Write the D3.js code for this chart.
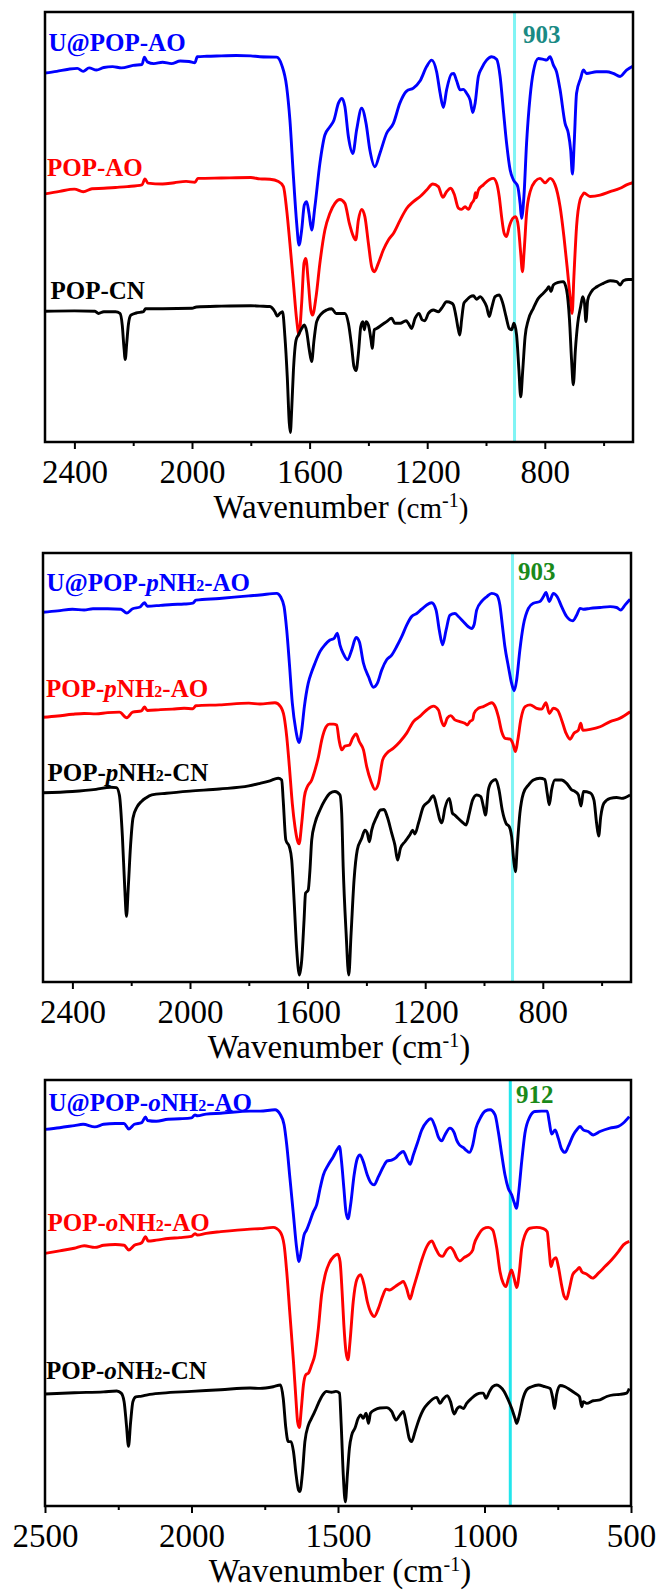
<!DOCTYPE html>
<html>
<head>
<meta charset="utf-8">
<script src="https://cdn.jsdelivr.net/npm/d3@7/dist/d3.min.js"></script>
<style>
  html, body { margin: 0; padding: 0; background: #fff; }
  svg { display: block; }
  text { font-family: "Liberation Serif", "Times New Roman", serif; }
</style>
</head>
<body>
<svg id="chart" width="659" height="1591"></svg>
<script>
// FTIR spectra, [wavenumber (cm-1), transmittance (a.u.)]

// ---- Panel A: POP-AO series ----
const uPopAO = [[2500,85.8],[2460,86.2],[2420,86.7],[2390,86.9],[2370,86.2],[2350,87.0],[2325,86.5],[2300,87.1],[2270,87.3],[2240,87.0],[2200,87.6],[2170,87.8],[2162,89.5],[2152,88.4],[2130,88.0],[2100,88.3],[2070,88.0],[2040,88.6],[2010,88.5],[1990,88.2],[1982,89.6],[1950,89.7],[1900,89.8],[1850,89.9],[1800,89.8],[1769,89.6],[1712,89.5],[1695,87.7],[1678,82.6],[1667,74.9],[1655,61.7],[1644,50.9],[1636,45.8],[1627,49.3],[1618,55.1],[1610,55.9],[1602,53.2],[1593,49.3],[1582,54.7],[1565,64.8],[1548,71.4],[1531,73.3],[1517,74.9],[1502,78.8],[1490,79.9],[1480,78.0],[1468,71.0],[1453,67.1],[1440,72.6],[1423,77.6],[1408,74.1],[1395,67.9],[1378,64.0],[1361,67.1],[1338,71.8],[1315,74.1],[1293,78.8],[1270,81.6],[1247,82.3],[1224,84.0],[1202,87.3],[1185,88.8],[1168,86.1],[1156,81.1],[1145,77.8],[1134,81.9],[1117,85.6],[1110,85.7],[1100,84.0],[1088,81.9],[1077,82.0],[1066,81.1],[1054,79.5],[1045,76.6],[1037,78.8],[1026,85.0],[1015,86.9],[998,88.8],[981,89.6],[964,89.0],[952,85.0],[941,77.2],[930,69.5],[918,63.3],[907,61.0],[892,59.4],[884,55.5],[879,52.0],[871,57.1],[862,69.5],[850,80.3],[839,86.1],[822,89.2],[805,89.0],[794,88.8],[782,89.6],[771,87.7],[760,86.1],[748,81.9],[731,74.1],[720,71.8],[712,67.9],[706,62.3],[700,69.5],[692,81.1],[678,84.6],[669,86.5],[658,85.7],[624,86.1],[590,86.1],[567,85.7],[544,85.0],[522,86.5],[501,87.4]];
const popAO = [[2500,57.7],[2450,58.3],[2400,58.8],[2370,58.2],[2340,58.9],[2300,59.0],[2260,59.2],[2220,59.4],[2170,59.8],[2160,61.2],[2150,60.2],[2100,60.0],[2060,60.3],[2020,60.6],[1990,60.4],[1980,61.3],[1900,61.4],[1800,61.5],[1769,61.2],[1735,61.1],[1706,60.6],[1689,59.4],[1678,54.0],[1667,46.2],[1655,36.9],[1644,28.4],[1636,24.9],[1627,32.3],[1619,41.6],[1613,42.7],[1604,36.9],[1596,30.7],[1590,29.5],[1578,33.8],[1565,41.6],[1548,49.3],[1531,53.2],[1514,55.5],[1497,56.4],[1480,55.5],[1465,50.9],[1451,47.8],[1443,47.0],[1434,51.6],[1423,54.1],[1412,52.4],[1400,46.2],[1389,40.8],[1380,39.6],[1366,41.6],[1349,44.7],[1332,47.0],[1315,48.5],[1292,51.6],[1270,54.3],[1247,55.9],[1224,57.1],[1202,58.6],[1181,60.0],[1162,59.4],[1147,56.9],[1134,58.2],[1120,59.0],[1108,57.6],[1094,54.4],[1083,54.1],[1071,54.7],[1060,54.1],[1049,55.5],[1040,56.5],[1036,58.0],[1033,56.8],[1026,58.6],[1009,59.8],[989,61.0],[975,61.3],[964,60.2],[955,57.1],[947,52.4],[938,48.5],[930,47.8],[921,50.1],[909,52.0],[899,52.4],[890,50.1],[882,43.9],[876,39.6],[870,44.7],[862,53.2],[850,58.2],[833,60.6],[816,61.3],[799,60.3],[782,61.3],[765,59.8],[748,54.7],[735,47.8],[723,40.0],[714,33.8],[707,29.9],[701,38.5],[692,50.1],[680,56.3],[670,57.6],[667,57.9],[646,57.1],[612,57.4],[578,58.2],[544,59.0],[522,59.8],[501,60.3]];
const popCN = [[2500,30.4],[2400,30.5],[2330,30.4],[2318,29.9],[2300,30.3],[2260,30.3],[2245,29.9],[2237,27.0],[2232,22.5],[2227,19.2],[2222,23.0],[2216,27.5],[2208,29.5],[2190,30.0],[2165,30.3],[2158,31.0],[2100,31.0],[2000,31.1],[1985,31.4],[1900,31.6],[1800,31.7],[1769,31.6],[1735,31.5],[1718,30.3],[1710,29.3],[1701,29.9],[1692,30.3],[1684,24.5],[1676,15.2],[1669,4.3],[1665.5,2.2],[1661,7.4],[1655,16.7],[1646,23.7],[1638,24.9],[1627,26.4],[1618,27.2],[1610,25.7],[1601,21.4],[1593,18.7],[1585,23.7],[1576,28.0],[1559,29.9],[1542,30.7],[1525,31.0],[1510,29.9],[1480,29.9],[1468,27.6],[1457,22.2],[1449,17.5],[1442,16.6],[1434,20.6],[1426,26.8],[1419,28.0],[1414,26.1],[1408,28.0],[1400,27.2],[1391,23.7],[1387,21.8],[1380,26.1],[1372,26.4],[1355,27.2],[1338,28.0],[1321,28.8],[1310,27.6],[1292,27.6],[1272,28.2],[1264,27.6],[1253,26.4],[1241,28.8],[1228,29.9],[1217,28.4],[1208,28.2],[1196,29.9],[1179,30.7],[1162,30.3],[1151,31.1],[1134,32.6],[1117,32.3],[1111,31.9],[1102,29.2],[1094,26.1],[1089,24.9],[1083,28.4],[1075,32.3],[1066,33.0],[1054,33.8],[1043,34.0],[1032,33.2],[1020,33.8],[1009,33.0],[998,31.5],[989,29.2],[981,31.1],[969,33.8],[955,34.2],[943,32.3],[932,29.2],[921,26.4],[913,26.1],[905,27.6],[896,24.9],[888,16.7],[882,10.5],[875,16.7],[867,24.5],[856,28.4],[839,31.1],[822,33.4],[805,34.6],[794,35.4],[786,36.1],[779,35.0],[771,36.5],[754,37.1],[737,37.3],[726,35.4],[716,28.4],[709,19.1],[703,13.3],[696,21.4],[688,27.6],[678,31.5],[671,33.8],[665,32.3],[660,28.0],[654,33.0],[641,35.0],[623,36.1],[601,36.9],[578,37.5],[555,37.3],[544,36.5],[533,37.5],[516,37.8],[501,37.8]];

// ---- Panel B: POP-pNH2 series ----
const uPopPAO = [[2500,86.2],[2450,86.5],[2400,86.9],[2360,86.7],[2330,87.0],[2280,87.0],[2235,86.9],[2215,86.0],[2195,87.0],[2170,87.4],[2155,88.4],[2145,87.6],[2100,87.8],[2060,88.0],[2020,88.1],[1990,88.3],[1980,89.0],[1900,89.4],[1800,90.0],[1762,90.2],[1705,90.6],[1692,89.8],[1680,87.5],[1671,82.0],[1662,74.3],[1652,65.0],[1640,58.7],[1633,56.4],[1628,55.8],[1620,58.7],[1611,64.2],[1598,69.6],[1586,72.3],[1575,74.3],[1558,77.0],[1541,78.6],[1524,79.7],[1510,80.1],[1499,81.3],[1490,78.6],[1479,76.6],[1464,75.1],[1450,77.4],[1435,80.3],[1424,79.3],[1410,74.3],[1393,71.2],[1376,68.7],[1363,69.6],[1348,72.7],[1331,75.1],[1314,76.2],[1297,78.2],[1280,80.5],[1263,83.2],[1246,85.2],[1229,85.9],[1212,86.9],[1195,87.9],[1178,88.4],[1163,86.7],[1152,82.0],[1141,78.6],[1129,82.0],[1116,85.5],[1099,85.9],[1087,85.2],[1070,84.0],[1053,82.8],[1042,82.4],[1034,83.2],[1025,86.7],[1008,88.7],[991,89.8],[974,90.6],[957,90.2],[946,87.9],[937,82.8],[929,78.2],[917,73.5],[906,69.6],[897,67.9],[889,70.4],[878,77.4],[866,83.2],[849,87.1],[832,88.3],[810,88.7],[798,89.8],[789,90.8],[778,88.7],[764,90.6],[751,89.8],[736,87.5],[719,85.2],[698,84.2],[685,85.5],[673,87.1],[662,86.9],[639,87.1],[605,87.3],[571,87.5],[549,87.3],[535,86.7],[520,87.9],[503,89.2]];
const popPAO = [[2500,61.7],[2450,62.0],[2400,62.4],[2360,62.6],[2320,62.5],[2280,62.8],[2240,62.9],[2215,61.6],[2195,62.9],[2165,63.2],[2155,64.1],[2145,63.3],[2100,63.5],[2060,63.6],[2020,63.8],[1990,63.7],[1980,64.4],[1900,64.6],[1800,65.0],[1762,64.8],[1711,65.1],[1692,64.2],[1680,61.9],[1671,57.2],[1662,50.2],[1652,41.6],[1643,36.2],[1635,33.1],[1629,32.2],[1620,37.0],[1611,43.2],[1601,45.5],[1586,47.1],[1575,49.4],[1563,52.5],[1552,56.4],[1537,59.5],[1526,60.1],[1512,60.1],[1501,59.9],[1493,56.4],[1484,54.1],[1473,55.0],[1458,55.2],[1447,56.8],[1435,57.8],[1424,56.0],[1410,54.1],[1399,50.2],[1384,46.7],[1371,44.9],[1359,46.3],[1345,51.7],[1331,53.3],[1308,54.5],[1286,56.0],[1263,58.0],[1240,60.7],[1218,61.9],[1195,63.4],[1172,64.3],[1155,63.4],[1144,60.7],[1136,59.7],[1125,61.5],[1113,62.1],[1099,61.1],[1082,60.7],[1065,60.3],[1057,59.9],[1048,60.7],[1038,61.2],[1034,62.6],[1019,63.8],[1002,64.2],[985,64.8],[974,65.1],[962,64.2],[951,61.8],[940,58.4],[928,56.8],[911,56.6],[902,55.6],[893,53.7],[885,56.4],[875,61.1],[860,64.2],[843,64.6],[821,63.8],[804,63.6],[789,65.1],[778,62.6],[764,63.8],[750,63.4],[736,61.1],[721,58.0],[707,56.6],[694,58.0],[679,58.7],[671,60.3],[664,58.7],[639,58.9],[605,59.5],[571,60.7],[537,61.5],[503,63.0]];
const popPCN = [[2500,44.1],[2400,44.4],[2320,44.9],[2270,45.4],[2250,45.3],[2240,43.5],[2230,34.0],[2222,22.0],[2216,15.3],[2210,22.0],[2202,32.0],[2194,38.2],[2180,40.8],[2165,42.1],[2150,42.9],[2130,43.6],[2080,44.0],[2000,44.5],[1900,45.0],[1800,45.7],[1762,46.3],[1728,46.9],[1700,47.5],[1688,47.1],[1683,42.4],[1674,33.1],[1662,31.5],[1654,28.4],[1646,19.1],[1637,7.5],[1628,1.6],[1620,5.1],[1612,14.5],[1607,20.7],[1598,21.4],[1592,26.1],[1586,33.1],[1575,37.0],[1558,40.1],[1541,42.4],[1524,44.0],[1507,44.4],[1490,43.6],[1484,39.3],[1479,26.9],[1469,11.4],[1460,1.6],[1452,11.4],[1442,23.8],[1431,30.8],[1416,33.5],[1405,35.4],[1397,34.7],[1390,32.7],[1382,35.4],[1365,38.5],[1352,40.1],[1340,40.2],[1329,38.5],[1314,34.7],[1303,31.9],[1294,28.4],[1284,31.2],[1269,32.7],[1252,34.3],[1243,35.4],[1235,34.5],[1223,37.0],[1206,40.9],[1189,42.0],[1172,43.4],[1161,40.9],[1150,37.8],[1143,37.1],[1133,40.5],[1118,42.8],[1107,39.3],[1099,38.9],[1093,38.5],[1076,37.4],[1061,36.6],[1050,39.3],[1039,42.4],[1025,43.6],[1011,43.2],[1002,40.9],[995,38.9],[985,44.8],[974,46.7],[960,47.2],[949,44.8],[938,40.1],[925,37.0],[914,36.2],[906,33.9],[899,28.4],[893,25.7],[887,31.5],[878,39.3],[866,44.0],[849,45.9],[832,47.1],[810,47.5],[793,47.2],[785,44.0],[778,41.3],[770,44.8],[759,47.1],[736,47.1],[719,46.3],[702,44.8],[690,44.4],[679,43.6],[670,41.0],[662,44.4],[639,44.1],[626,42.4],[617,37.0],[610,34.0],[603,38.5],[592,41.7],[571,42.8],[549,43.0],[532,42.8],[503,43.6]];

// ---- Panel C: POP-oNH2 series ----
const uPopOAO = [[2500,88.4],[2450,88.8],[2400,89.3],[2370,89.6],[2330,89.0],[2300,89.6],[2260,89.8],[2230,89.8],[2214,88.5],[2195,89.6],[2170,90.0],[2157,91.3],[2150,90.5],[2120,90.3],[2080,90.8],[2040,90.9],[2000,91.1],[1988,91.8],[1980,91.6],[1950,92.0],[1900,92.2],[1800,92.7],[1766,92.7],[1715,93.0],[1698,92.0],[1684,89.5],[1675,84.8],[1664,76.9],[1652,68.3],[1641,60.5],[1633,57.4],[1624,60.5],[1616,63.6],[1607,64.8],[1596,66.8],[1584,69.1],[1573,70.7],[1561,74.6],[1550,77.7],[1533,80.1],[1516,82.0],[1502,83.8],[1495,84.4],[1488,80.9],[1480,74.6],[1473,69.1],[1466,67.4],[1457,70.7],[1445,77.7],[1434,81.6],[1425,82.4],[1414,80.9],[1400,77.7],[1387,75.8],[1377,75.4],[1362,77.3],[1345,79.7],[1332,81.0],[1317,81.2],[1302,81.8],[1291,82.6],[1277,83.2],[1263,81.2],[1254,80.2],[1243,82.4],[1229,85.2],[1214,88.3],[1197,90.2],[1183,90.9],[1169,89.1],[1158,86.7],[1146,85.7],[1135,87.1],[1118,88.7],[1104,87.7],[1095,85.9],[1086,84.8],[1072,84.1],[1061,83.4],[1052,83.0],[1040,84.8],[1029,88.7],[1015,91.0],[998,92.7],[981,93.0],[964,91.8],[953,87.9],[941,82.4],[930,77.7],[919,74.6],[907,73.0],[898,71.1],[891,69.9],[883,73.8],[873,80.9],[862,87.5],[845,91.4],[828,92.6],[805,92.7],[786,92.7],[779,90.2],[771,87.3],[759,88.3],[748,86.3],[737,83.8],[725,83.0],[714,84.4],[697,87.1],[683,88.5],[674,89.1],[663,88.3],[646,87.9],[629,87.1],[606,87.9],[572,88.7],[543,89.1],[526,89.9],[506,91.4]];
const popOAO = [[2500,59.3],[2450,59.9],[2400,60.5],[2366,61.1],[2330,60.7],[2300,61.2],[2260,61.4],[2230,61.2],[2214,60.1],[2195,61.2],[2170,61.8],[2157,63.2],[2148,62.2],[2120,62.4],[2080,62.8],[2040,63.0],[2000,63.3],[1988,63.9],[1980,63.6],[1950,64.0],[1900,64.4],[1800,65.0],[1766,65.1],[1721,65.4],[1698,64.4],[1684,61.3],[1675,55.0],[1664,44.9],[1652,33.9],[1643,24.5],[1638,19.8],[1632,18.4],[1625,23.0],[1618,28.4],[1610,30.8],[1601,31.2],[1590,33.1],[1579,35.5],[1567,41.7],[1556,49.6],[1544,54.2],[1530,57.0],[1514,58.6],[1501,59.1],[1493,57.4],[1486,50.3],[1480,42.5],[1473,36.3],[1466,34.3],[1459,38.6],[1448,48.0],[1436,53.1],[1423,54.3],[1411,51.9],[1400,48.0],[1387,45.3],[1376,44.5],[1362,46.4],[1348,49.2],[1336,50.9],[1323,50.7],[1305,51.5],[1288,52.3],[1277,52.7],[1266,51.1],[1254,48.6],[1243,51.1],[1229,54.3],[1214,57.8],[1197,60.9],[1180,62.2],[1167,60.5],[1154,58.9],[1143,58.6],[1129,60.1],[1117,60.7],[1104,59.7],[1095,58.3],[1084,57.5],[1070,58.3],[1055,58.9],[1040,60.1],[1036,61.3],[1021,63.6],[1004,65.1],[987,65.4],[972,64.8],[958,60.5],[947,55.0],[936,52.3],[927,51.5],[918,53.5],[908,55.4],[899,53.5],[890,51.3],[881,55.0],[873,60.5],[862,63.6],[845,65.2],[822,65.4],[799,65.1],[786,64.4],[780,60.5],[773,56.2],[765,57.8],[756,58.3],[748,56.2],[737,51.9],[728,49.2],[720,48.6],[710,51.1],[699,54.3],[685,55.4],[676,56.0],[668,55.0],[651,54.4],[631,53.5],[612,54.6],[589,56.2],[566,57.8],[543,59.7],[526,61.3],[506,62.1]];
const popOCN = [[2500,26.3],[2400,26.6],[2300,26.8],[2255,27.0],[2240,26.5],[2230,24.5],[2222,19.0],[2215,14.0],[2208,19.5],[2200,24.5],[2190,25.6],[2170,25.8],[2150,26.1],[2100,26.5],[2000,26.9],[1900,27.3],[1800,27.7],[1766,27.6],[1721,28.0],[1696,28.4],[1687,25.3],[1678,18.3],[1670,15.1],[1660,15.1],[1652,12.8],[1643,7.3],[1635,3.8],[1630,3.4],[1622,7.3],[1613,15.1],[1601,19.0],[1590,20.6],[1579,22.2],[1567,24.1],[1552,26.1],[1539,26.9],[1522,26.7],[1507,26.9],[1495,26.5],[1489,19.0],[1482,7.3],[1475,1.0],[1468,7.3],[1461,13.6],[1453,16.7],[1442,18.3],[1431,20.6],[1422,21.4],[1414,20.6],[1404,21.8],[1396,19.4],[1389,21.8],[1374,22.6],[1357,23.0],[1334,23.1],[1317,22.2],[1302,20.2],[1288,21.4],[1277,22.2],[1266,19.0],[1257,15.9],[1249,15.1],[1237,17.5],[1222,20.6],[1209,22.6],[1192,24.1],[1177,25.1],[1163,25.5],[1152,24.1],[1141,25.1],[1127,25.9],[1116,24.5],[1104,21.6],[1093,22.9],[1084,23.3],[1072,22.9],[1061,24.1],[1044,25.3],[1027,26.2],[1013,26.5],[1004,26.5],[995,25.3],[983,26.9],[972,28.0],[958,28.4],[947,28.0],[933,26.9],[919,24.9],[907,22.9],[896,20.6],[890,19.4],[881,21.4],[870,24.9],[856,27.3],[839,28.0],[816,28.4],[794,28.0],[776,27.6],[767,25.3],[761,22.9],[754,26.1],[742,28.3],[725,28.0],[708,27.3],[691,26.5],[676,25.7],[668,23.3],[663,24.5],[651,24.1],[629,24.7],[606,24.9],[583,25.7],[560,26.1],[538,26.2],[515,26.5],[506,27.6]];

// series names: [text, style] runs (i = italic, s = small digit)
const namesA = [
  [["U@POP-AO", ""]],
  [["POP-AO", ""]],
  [["POP-CN", ""]]
];
const namesB = [
  [["U@POP-", ""], ["p", "i"], ["NH", ""], ["2", "s"], ["-AO", ""]],
  [["POP-", ""], ["p", "i"], ["NH", ""], ["2", "s"], ["-AO", ""]],
  [["POP-", ""], ["p", "i"], ["NH", ""], ["2", "s"], ["-CN", ""]]
];
const namesC = [
  [["U@POP-", ""], ["o", "i"], ["NH", ""], ["2", "s"], ["-AO", ""]],
  [["POP-", ""], ["o", "i"], ["NH", ""], ["2", "s"], ["-AO", ""]],
  [["POP-", ""], ["o", "i"], ["NH", ""], ["2", "s"], ["-CN", ""]]
];

// reference band positions and axis ticks
const bandA = 903, bandB = 903, bandC = 912;
const majorAB = [2400, 2000, 1600, 1200, 800];
const minorAB = [2200, 1800, 1400, 1000, 600];
const majorC = [2500, 2000, 1500, 1000, 500];
const minorC = [2250, 1750, 1250, 750];

const seriesColors = ["#0000ff", "#ff0000", "#000000"];

const panels = [
  { top: 12, bottom: 442, left: 45, right: 633,
    series: [uPopAO, popAO, popCN], names: namesA,
    nameX: [48.5, 47, 50.5], nameY: [51, 176, 299],
    band: bandA, bandColor: "#80f4f4", bandText: "#1a8a84", bandLabelX: 523, bandLabelY: 43,
    major: majorAB, minor: minorAB, smallParen: true },
  { top: 553, bottom: 982, left: 43, right: 631,
    series: [uPopPAO, popPAO, popPCN], names: namesB,
    nameX: [46.5, 46, 47.5], nameY: [591, 697, 781],
    band: bandB, bandColor: "#80f4f4", bandText: "#1a8a1a", bandLabelX: 518, bandLabelY: 580,
    major: majorAB, minor: minorAB, smallParen: false },
  { top: 1080, bottom: 1506, left: 45, right: 631,
    series: [uPopOAO, popOAO, popOCN], names: namesC,
    nameX: [48.5, 47.5, 46], nameY: [1111, 1231, 1379],
    band: bandC, bandColor: "#22e6ec", bandText: "#1a8a1a", bandLabelX: 516, bandLabelY: 1103,
    major: majorC, minor: minorC, smallParen: false }
];

const svg = d3.select("#chart");
svg.append("rect").attr("width", 659).attr("height", 1591).attr("fill", "#fff");

panels.forEach((p, pi) => {
  const x = d3.scaleLinear().domain([2500, 500]).range([p.left, p.right]);
  const y = d3.scaleLinear().domain([0, 100]).range([p.bottom, p.top]);
  const g = svg.append("g");

  const clipId = "clip" + pi;
  g.append("clipPath").attr("id", clipId)
    .append("rect").attr("x", p.left).attr("y", p.top)
    .attr("width", p.right - p.left).attr("height", p.bottom - p.top);

  // reference band line
  g.append("line")
    .attr("x1", x(p.band)).attr("x2", x(p.band))
    .attr("y1", p.top).attr("y2", p.bottom)
    .attr("stroke", p.bandColor).attr("stroke-width", 3);

  // spectra
  const line = d3.line()
    .x(d => x(d[0])).y(d => y(d[1]))
    .curve(d3.curveMonotoneX);
  const plot = g.append("g").attr("clip-path", `url(#${clipId})`);
  p.series.forEach((s, i) => {
    plot.append("path").datum(s)
      .attr("d", line)
      .attr("fill", "none")
      .attr("stroke", seriesColors[i])
      .attr("stroke-width", 2.9)
      .attr("stroke-linejoin", "round");
  });

  // frame
  g.append("rect")
    .attr("x", p.left).attr("y", p.top)
    .attr("width", p.right - p.left).attr("height", p.bottom - p.top)
    .attr("fill", "none").attr("stroke", "#000").attr("stroke-width", 2.5);

  // bottom axis: major and minor ticks
  const axMajor = d3.axisBottom(x).tickValues(p.major).tickSize(7).tickSizeOuter(0)
    .tickFormat(d3.format("d"));
  const axMinor = d3.axisBottom(x).tickValues(p.minor).tickSize(4).tickSizeOuter(0).tickFormat("");
  const gMinor = g.append("g").attr("transform", `translate(0,${p.bottom})`).call(axMinor);
  const gMajor = g.append("g").attr("transform", `translate(0,${p.bottom})`).call(axMajor);
  [gMinor, gMajor].forEach(a => {
    a.attr("font-family", null).attr("font-size", null);
    a.select(".domain").remove();
    a.selectAll(".tick line").attr("stroke", "#000").attr("stroke-width", 2);
  });
  gMajor.selectAll(".tick text")
    .attr("y", 41).attr("dy", 0)
    .attr("fill", "#000")
    .style("font-family", '"Liberation Serif", "Times New Roman", serif')
    .style("font-size", "33px");

  // axis title
  const cx = (p.left + p.right) / 2;
  const title = g.append("text")
    .attr("x", cx + 2).attr("y", p.bottom + 76)
    .attr("text-anchor", "middle")
    .style("font-size", "33px").attr("fill", "#000");
  title.append("tspan").text("Wavenumber ");
  title.append("tspan").text("(cm").style("font-size", p.smallParen ? "29px" : "33px");
  title.append("tspan").text("-1").style("font-size", "20px").attr("dy", -11);
  title.append("tspan").text(")").style("font-size", p.smallParen ? "29px" : "33px").attr("dy", 11);

  // series labels
  p.names.forEach((runs, i) => {
    const t = g.append("text")
      .attr("x", p.nameX[i]).attr("y", p.nameY[i])
      .attr("fill", seriesColors[i])
      .style("font-size", "25px").style("font-weight", "bold");
    runs.forEach(([str, st]) => {
      const ts = t.append("tspan").text(str);
      if (st === "i") ts.style("font-style", "italic");
      if (st === "s") ts.style("font-size", "16px");
    });
  });

  // band label
  g.append("text")
    .attr("x", p.bandLabelX).attr("y", p.bandLabelY)
    .attr("fill", p.bandText)
    .style("font-size", "25px").style("font-weight", "bold")
    .text(String(p.band));
});
</script>
</body>
</html>
